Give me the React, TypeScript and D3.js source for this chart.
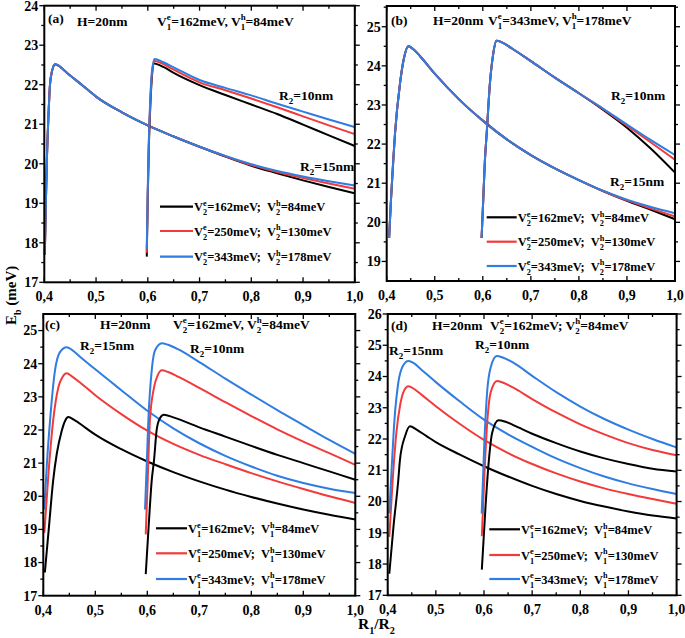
import React from "react";
import * as d3 from "d3";

type Pt = [number, number];

// ---------- tick labels ----------
const xTickVals = [0.4, 0.5, 0.6, 0.7, 0.8, 0.9, 1.0];
const xTickLabels = ["0,4", "0,5", "0,6", "0,7", "0,8", "0,9", "1,0"];
const yTicksA = [17, 18, 19, 20, 21, 22, 23, 24];
const yTicksB = [19, 20, 21, 22, 23, 24, 25];
const yTicksC = [17, 18, 19, 20, 21, 22, 23, 24, 25];
const yTicksD = [17, 18, 19, 20, 21, 22, 23, 24, 25, 26];

// ---------- panel (a) ----------
const a15Black: Pt[] = [[0.401,17.7],[0.403,19.0],[0.405,20.1],[0.408,21.2],[0.411,22.0],[0.415,22.35],[0.421,22.52],[0.43,22.46],[0.443,22.31],[0.475,21.97],[0.5,21.7],[0.55,21.3],[0.6,20.97],[0.65,20.69],[0.7,20.43],[0.75,20.18],[0.8,19.95],[0.85,19.76],[0.9,19.58],[0.95,19.41],[1.0,19.25]];
const a15Red: Pt[] = [[0.401,17.7],[0.403,19.0],[0.405,20.1],[0.408,21.2],[0.411,22.0],[0.415,22.35],[0.421,22.52],[0.43,22.46],[0.443,22.31],[0.475,21.97],[0.5,21.7],[0.55,21.3],[0.6,20.97],[0.65,20.69],[0.7,20.43],[0.75,20.19],[0.8,19.97],[0.85,19.79],[0.9,19.64],[0.95,19.5],[1.0,19.37]];
const a15Blue: Pt[] = [[0.401,17.7],[0.403,19.0],[0.405,20.1],[0.408,21.2],[0.411,22.0],[0.415,22.35],[0.421,22.52],[0.43,22.46],[0.443,22.31],[0.475,21.97],[0.5,21.7],[0.55,21.3],[0.6,20.97],[0.65,20.69],[0.7,20.43],[0.75,20.2],[0.8,19.99],[0.85,19.82],[0.9,19.68],[0.95,19.56],[1.0,19.45]];
const a10Black: Pt[] = [[0.598,17.65],[0.6,19.2],[0.602,20.4],[0.605,21.5],[0.608,22.2],[0.612,22.54],[0.63,22.45],[0.65,22.3],[0.7,21.99],[0.75,21.74],[0.8,21.5],[0.85,21.26],[0.9,20.99],[0.95,20.72],[1.0,20.45]];
const a10Red: Pt[] = [[0.598,17.75],[0.6,19.3],[0.602,20.5],[0.605,21.6],[0.608,22.28],[0.613,22.6],[0.63,22.52],[0.65,22.38],[0.7,22.06],[0.75,21.86],[0.8,21.65],[0.85,21.43],[0.9,21.2],[0.95,20.97],[1.0,20.75]];
const a10Blue: Pt[] = [[0.598,17.85],[0.6,19.4],[0.602,20.6],[0.605,21.7],[0.608,22.33],[0.613,22.65],[0.63,22.57],[0.65,22.44],[0.7,22.12],[0.75,21.92],[0.8,21.73],[0.85,21.52],[0.9,21.32],[0.95,21.12],[1.0,20.93]];

// ---------- panel (b) ----------
const b15Black: Pt[] = [[0.405,19.6],[0.409,20.6],[0.4137,21.59],[0.4173,22.27],[0.4277,23.55],[0.436,24.2],[0.445,24.5],[0.455,24.43],[0.47,24.24],[0.5,23.8],[0.55,23.15],[0.6,22.6],[0.65,22.12],[0.7,21.72],[0.75,21.38],[0.8,21.08],[0.85,20.8],[0.9,20.55],[0.95,20.32],[1.0,20.08]];
const b15Red: Pt[] = [[0.405,19.6],[0.409,20.6],[0.4137,21.59],[0.4173,22.27],[0.4277,23.55],[0.436,24.2],[0.445,24.5],[0.455,24.43],[0.47,24.24],[0.5,23.8],[0.55,23.15],[0.6,22.6],[0.65,22.12],[0.7,21.72],[0.75,21.38],[0.8,21.08],[0.85,20.8],[0.9,20.56],[0.95,20.35],[1.0,20.15]];
const b15Blue: Pt[] = [[0.405,19.6],[0.409,20.6],[0.4137,21.59],[0.4173,22.27],[0.4277,23.55],[0.436,24.2],[0.445,24.5],[0.455,24.43],[0.47,24.24],[0.5,23.8],[0.55,23.15],[0.6,22.6],[0.65,22.12],[0.7,21.72],[0.75,21.38],[0.8,21.08],[0.85,20.81],[0.9,20.58],[0.95,20.39],[1.0,20.23]];
const b10Black: Pt[] = [[0.5975,19.6],[0.601,20.6],[0.6044,21.59],[0.608,22.25],[0.6148,23.55],[0.621,24.25],[0.6287,24.64],[0.64,24.6],[0.66,24.45],[0.7,24.12],[0.75,23.7],[0.8,23.3],[0.85,22.88],[0.9,22.42],[0.95,21.88],[1.0,21.27]];
const b10Red: Pt[] = [[0.5975,19.6],[0.601,20.6],[0.6044,21.59],[0.608,22.25],[0.6148,23.55],[0.621,24.25],[0.6287,24.64],[0.64,24.6],[0.66,24.45],[0.7,24.12],[0.75,23.7],[0.8,23.3],[0.85,22.9],[0.9,22.47],[0.95,22.04],[1.0,21.6]];
const b10Blue: Pt[] = [[0.5975,19.6],[0.601,20.6],[0.6044,21.59],[0.608,22.25],[0.6148,23.55],[0.621,24.25],[0.6287,24.64],[0.64,24.6],[0.66,24.45],[0.7,24.12],[0.75,23.7],[0.8,23.3],[0.85,22.91],[0.9,22.5],[0.95,22.1],[1.0,21.72]];

// ---------- panel (c) ----------
const c15Black: Pt[] = [[0.403,17.7],[0.411,19.1],[0.419,20.48],[0.426,21.29],[0.435,21.95],[0.442,22.28],[0.448,22.39],[0.46,22.3],[0.48,22.08],[0.5,21.86],[0.55,21.42],[0.6,21.05],[0.65,20.73],[0.7,20.45],[0.75,20.2],[0.8,19.98],[0.85,19.78],[0.9,19.6],[0.95,19.44],[1.0,19.3]];
const c15Red: Pt[] = [[0.402,18.9],[0.41,20.7],[0.419,22.29],[0.429,23.29],[0.437,23.6],[0.445,23.71],[0.455,23.62],[0.47,23.44],[0.5,23.05],[0.55,22.48],[0.6,21.98],[0.65,21.58],[0.7,21.25],[0.75,20.97],[0.8,20.7],[0.85,20.45],[0.9,20.22],[0.95,20.0],[1.0,19.8]];
const c15Blue: Pt[] = [[0.402,19.6],[0.407,21.0],[0.413,22.29],[0.4225,23.8],[0.432,24.35],[0.445,24.5],[0.455,24.42],[0.47,24.22],[0.5,23.83],[0.55,23.2],[0.6,22.58],[0.65,22.05],[0.7,21.6],[0.75,21.22],[0.8,20.9],[0.85,20.62],[0.9,20.4],[0.95,20.23],[1.0,20.1]];
const c10Black: Pt[] = [[0.597,17.65],[0.603,19.2],[0.6085,20.48],[0.613,21.1],[0.618,22.0],[0.624,22.35],[0.632,22.46],[0.65,22.38],[0.7,22.08],[0.75,21.8],[0.8,21.52],[0.85,21.25],[0.9,21.0],[0.95,20.75],[1.0,20.5]];
const c10Red: Pt[] = [[0.597,18.85],[0.601,20.6],[0.605,22.29],[0.613,23.29],[0.62,23.65],[0.628,23.8],[0.64,23.75],[0.66,23.6],[0.7,23.27],[0.75,22.84],[0.8,22.42],[0.85,22.02],[0.9,21.65],[0.95,21.3],[1.0,20.95]];
const c10Blue: Pt[] = [[0.5956,19.6],[0.599,21.0],[0.602,22.29],[0.6085,23.8],[0.6148,24.4],[0.628,24.62],[0.64,24.57],[0.66,24.43],[0.7,24.05],[0.75,23.55],[0.8,23.07],[0.85,22.6],[0.9,22.15],[0.95,21.7],[1.0,21.28]];

// ---------- panel (d) ----------
const d15Black: Pt[] = [[0.4033,17.69],[0.412,19.2],[0.422,20.69],[0.4255,21.34],[0.436,22.09],[0.4463,22.41],[0.46,22.3],[0.48,22.1],[0.5,21.9],[0.55,21.5],[0.6,21.13],[0.65,20.8],[0.7,20.5],[0.75,20.24],[0.8,20.02],[0.85,19.84],[0.9,19.68],[0.95,19.55],[1.0,19.46]];
const d15Red: Pt[] = [[0.4033,18.87],[0.41,20.6],[0.418,22.2],[0.426,23.1],[0.434,23.55],[0.443,23.69],[0.455,23.6],[0.47,23.42],[0.5,23.05],[0.55,22.48],[0.6,21.97],[0.65,21.55],[0.7,21.2],[0.75,20.9],[0.8,20.64],[0.85,20.42],[0.9,20.24],[0.95,20.08],[1.0,19.93]];
const d15Blue: Pt[] = [[0.4033,19.62],[0.408,21.0],[0.414,22.6],[0.422,23.8],[0.432,24.35],[0.443,24.5],[0.455,24.42],[0.47,24.22],[0.5,23.82],[0.55,23.2],[0.6,22.62],[0.65,22.15],[0.7,21.75],[0.75,21.38],[0.8,21.07],[0.85,20.8],[0.9,20.58],[0.95,20.4],[1.0,20.24]];
const d10Black: Pt[] = [[0.5955,17.82],[0.603,19.8],[0.61,21.3],[0.617,22.2],[0.63,22.6],[0.645,22.55],[0.67,22.38],[0.7,22.17],[0.75,21.87],[0.8,21.6],[0.85,21.38],[0.9,21.2],[0.95,21.05],[1.0,20.96]];
const d10Red: Pt[] = [[0.5955,18.89],[0.601,20.9],[0.607,22.6],[0.614,23.5],[0.627,23.86],[0.64,23.8],[0.66,23.65],[0.7,23.28],[0.75,22.85],[0.8,22.47],[0.85,22.15],[0.9,21.87],[0.95,21.65],[1.0,21.48]];
const d10Blue: Pt[] = [[0.5952,19.62],[0.601,22.0],[0.607,23.6],[0.614,24.3],[0.6264,24.66],[0.64,24.6],[0.66,24.45],[0.7,24.02],[0.75,23.5],[0.8,23.04],[0.85,22.64],[0.9,22.3],[0.95,22.0],[1.0,21.73]];

// ---------- legend texts ----------
const legendEnergiesE = ["162", "250", "343"];
const legendEnergiesH = ["84", "130", "178"];

const BLACK = "#000000";
const RED = "#f23a3a";
const BLUE = "#2f7de1";
const FONT = "'Liberation Serif','Times New Roman',serif";

type Part = string | { sup?: string; sub?: string };

const charW: Record<string, number> = { e: 0.444, h: 0.556, "1": 0.5, "2": 0.5, b: 0.556 };

function Rich({ x, y, parts, fs = 13, anchor = "start", rotate }: { x: number; y: number; parts: Part[]; fs?: number; anchor?: string; rotate?: number }) {
  const small = fs * 0.66;
  const spans: any[] = [];
  let shift = 0;
  let pendDx = 0;
  parts.forEach((p, i) => {
    if (typeof p === "string") {
      spans.push(
        <tspan key={i} dy={-shift} dx={pendDx} fontSize={fs}>{p}</tspan>
      );
      shift = 0;
      pendDx = 0;
    } else if (p.sup && p.sub) {
      const ws = (charW[p.sup] ?? 0.5) * small;
      const wb = (charW[p.sub] ?? 0.5) * small;
      const up = -fs * 0.42;
      const down = fs * 0.32;
      spans.push(<tspan key={i + "a"} dy={up - shift} dx={pendDx} fontSize={small}>{p.sup}</tspan>);
      spans.push(<tspan key={i + "b"} dx={-ws} dy={down - up} fontSize={small}>{p.sub}</tspan>);
      shift = down;
      pendDx = ws > wb ? ws - wb : 0;
    } else if (p.sub) {
      const down = fs * 0.32;
      spans.push(<tspan key={i} dy={down - shift} dx={pendDx} fontSize={small}>{p.sub}</tspan>);
      shift = down;
      pendDx = 0;
    }
  });
  return (
    <text
      x={x}
      y={y}
      fontFamily={FONT}
      fontWeight="bold"
      fontSize={fs}
      textAnchor={anchor}
      style={{ whiteSpace: "pre" }}
      transform={rotate ? `rotate(${rotate},${x},${y})` : undefined}
    >
      {spans}
    </text>
  );
}

type Series = { data: Pt[]; color: string };
type Ann = { x: number; y: number; parts: Part[] };

type PanelProps = {
  x0: number; x1: number; yTop: number; yBot: number;
  yDomain: [number, number]; yTicks: number[];
  series: Series[]; anns: Ann[];
  legend: { lx0: number; lx1: number; ty: number[]; idx: string };
};

function Panel({ x0, x1, yTop, yBot, yDomain, yTicks, series, anns, legend }: PanelProps) {
  const xs = d3.scaleLinear().domain([0.4, 1.0]).range([x0, x1]);
  const ys = d3.scaleLinear().domain(yDomain).range([yBot, yTop]);
  const line = d3
    .line<Pt>()
    .x((d) => xs(d[0]))
    .y((d) => ys(d[1]))
    .curve(d3.curveMonotoneX);
  const xMinor = d3.range(0.45, 1.0, 0.1);
  const yMinor: number[] = [];
  for (let v = Math.ceil(yDomain[0] * 2) / 2; v < yDomain[1]; v += 0.5) {
    if (Math.abs(v - Math.round(v)) > 0.01 && v > yDomain[0] + 0.05 && v < yDomain[1] - 0.02) yMinor.push(v);
  }
  const colors = [BLACK, RED, BLUE];
  const sw = 1.3;
  return (
    <g>
      {series.map((s, i) => (
        <path key={i} d={line(s.data) || ""} fill="none" stroke={s.color} strokeWidth={2} strokeLinejoin="round" />
      ))}
      <rect x={x0} y={yTop} width={x1 - x0} height={yBot - yTop} fill="none" stroke="#000" strokeWidth={2} />
      {xTickVals.map((v, i) => (
        <g key={"xt" + i}>
          <line x1={xs(v)} x2={xs(v)} y1={yBot} y2={yBot - 5} stroke="#000" strokeWidth={sw} />
          <line x1={xs(v)} x2={xs(v)} y1={yTop} y2={yTop + 5} stroke="#000" strokeWidth={sw} />
          <text x={xs(v)} y={yBot + 19} textAnchor="middle" fontFamily={FONT} fontWeight="bold" fontSize={14}>
            {xTickLabels[i]}
          </text>
        </g>
      ))}
      {xMinor.map((v, i) => (
        <g key={"xm" + i}>
          <line x1={xs(v)} x2={xs(v)} y1={yBot} y2={yBot - 3} stroke="#000" strokeWidth={sw} />
          <line x1={xs(v)} x2={xs(v)} y1={yTop} y2={yTop + 3} stroke="#000" strokeWidth={sw} />
        </g>
      ))}
      {yTicks.map((v, i) => (
        <g key={"yt" + i}>
          <line x1={x0} x2={x0 - 5} y1={ys(v)} y2={ys(v)} stroke="#000" strokeWidth={sw} />
          <line x1={x1} x2={x1 + 5} y1={ys(v)} y2={ys(v)} stroke="#000" strokeWidth={sw} />
          <text x={x0 - 6} y={ys(v)} dy="0.35em" textAnchor="end" fontFamily={FONT} fontWeight="bold" fontSize={14}>
            {v}
          </text>
        </g>
      ))}
      {yMinor.map((v, i) => (
        <g key={"ym" + i}>
          <line x1={x0} x2={x0 - 3} y1={ys(v)} y2={ys(v)} stroke="#000" strokeWidth={sw} />
          <line x1={x1} x2={x1 + 3} y1={ys(v)} y2={ys(v)} stroke="#000" strokeWidth={sw} />
        </g>
      ))}
      {anns.map((a, i) => (
        <Rich key={"an" + i} x={a.x} y={a.y} parts={a.parts} fs={13.5} />
      ))}
      {legend.ty.map((ty, i) => (
        <g key={"lg" + i}>
          <line x1={legend.lx0} x2={legend.lx1} y1={ty} y2={ty} stroke={colors[i]} strokeWidth={2.2} />
          <Rich
            x={legend.lx1 + 1}
            y={ty + 4.5}
            fs={12.5}
            parts={[
              "V",
              { sup: "e", sub: legend.idx },
              `=${legendEnergiesE[i]}meV;  V`,
              { sup: "h", sub: legend.idx },
              `=${legendEnergiesH[i]}meV`,
            ]}
          />
        </g>
      ))}
    </g>
  );
}

const R2 = (v: string): Part[] => ["R", { sub: "2" }, `=${v}nm`];

export default function App() {
  return (
    <div style={{ position: "absolute", left: 0, top: 0 }}>
      <svg width={685} height={638} style={{ display: "block", background: "#fff" }}>
        <Panel
          x0={44.3} x1={354.8} yTop={5.7} yBot={282.3} yDomain={[17, 24]} yTicks={yTicksA}
          series={[
            { data: a15Black, color: BLACK }, { data: a15Red, color: RED }, { data: a15Blue, color: BLUE },
            { data: a10Black, color: BLACK }, { data: a10Red, color: RED }, { data: a10Blue, color: BLUE },
          ]}
          anns={[
            { x: 48, y: 23, parts: ["(a)"] },
            { x: 77, y: 26, parts: ["H=20nm"] },
            { x: 157, y: 26, parts: ["V", { sup: "e", sub: "1" }, "=162meV, V", { sup: "h", sub: "1" }, "=84meV"] },
            { x: 279, y: 100, parts: R2("10") },
            { x: 300, y: 171, parts: R2("15") },
          ]}
          legend={{ lx0: 160, lx1: 193, ty: [206.7, 231, 256.7], idx: "2" }}
        />
        <Panel
          x0={386.7} x1={675} yTop={6} yBot={281} yDomain={[18.5, 25.53]} yTicks={yTicksB}
          series={[
            { data: b15Black, color: BLACK }, { data: b15Red, color: RED }, { data: b15Blue, color: BLUE },
            { data: b10Black, color: BLACK }, { data: b10Red, color: RED }, { data: b10Blue, color: BLUE },
          ]}
          anns={[
            { x: 391, y: 25, parts: ["(b)"] },
            { x: 433, y: 25, parts: ["H=20nm"] },
            { x: 488, y: 25, parts: ["V", { sup: "e", sub: "1" }, "=343meV, V", { sup: "h", sub: "1" }, "=178meV"] },
            { x: 611, y: 100, parts: R2("10") },
            { x: 610, y: 186, parts: R2("15") },
          ]}
          legend={{ lx0: 486.7, lx1: 516.7, ty: [217.3, 241.7, 266], idx: "2" }}
        />
        <Panel
          x0={43.3} x1={355.3} yTop={314} yBot={595.7} yDomain={[17, 25.5]} yTicks={yTicksC}
          series={[
            { data: c15Black, color: BLACK }, { data: c15Red, color: RED }, { data: c15Blue, color: BLUE },
            { data: c10Black, color: BLACK }, { data: c10Red, color: RED }, { data: c10Blue, color: BLUE },
          ]}
          anns={[
            { x: 45, y: 329, parts: ["(c)"] },
            { x: 100, y: 329, parts: ["H=20nm"] },
            { x: 173, y: 329, parts: ["V", { sup: "e", sub: "2" }, "=162meV, V", { sup: "h", sub: "2" }, "=84meV"] },
            { x: 80, y: 350, parts: R2("15") },
            { x: 190, y: 353, parts: R2("10") },
          ]}
          legend={{ lx0: 156, lx1: 187, ty: [528.3, 553.3, 579], idx: "1" }}
        />
        <Panel
          x0={387.7} x1={676.6} yTop={314} yBot={595.3} yDomain={[17, 26]} yTicks={yTicksD}
          series={[
            { data: d15Black, color: BLACK }, { data: d15Red, color: RED }, { data: d15Blue, color: BLUE },
            { data: d10Black, color: BLACK }, { data: d10Red, color: RED }, { data: d10Blue, color: BLUE },
          ]}
          anns={[
            { x: 391, y: 330, parts: ["(d)"] },
            { x: 432, y: 330, parts: ["H=20nm"] },
            { x: 490, y: 330, parts: ["V", { sup: "e", sub: "2" }, "=162meV; V", { sup: "h", sub: "2" }, "=84meV"] },
            { x: 389, y: 355, parts: R2("15") },
            { x: 475, y: 349, parts: R2("10") },
          ]}
          legend={{ lx0: 489.3, lx1: 520, ty: [529.3, 555, 579], idx: "1" }}
        />
        <Rich x={16} y={325} rotate={-90} fs={15} parts={["E", { sub: "b" }, " (meV)"]} />
        <Rich x={358} y={629} fs={15.5} parts={["R", { sub: "1" }, "/R", { sub: "2" }]} />
      </svg>
    </div>
  );
}
